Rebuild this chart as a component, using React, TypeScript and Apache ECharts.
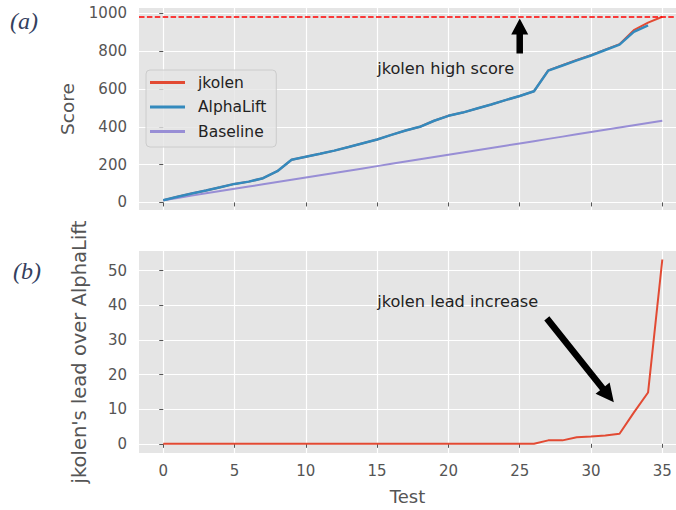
import React, { useEffect, useRef } from "react";
import * as echarts from "echarts";

const tests = [0, 1, 2, 3, 4, 5, 6, 7, 8, 9, 10, 11, 12, 13, 14, 15, 16, 17, 18, 19, 20, 21, 22, 23, 24, 25, 26, 27, 28, 29, 30, 31, 32, 33, 34, 35];
const jkolen = [12, 30, 47, 63, 80, 98, 110, 128, 165, 226, 242, 257, 274, 293, 313, 333, 357, 380, 400, 432, 458, 475, 497, 518, 541, 563, 588, 698, 725, 753, 779, 808, 837, 911, 951, 982];
const alphaLift = [12, 30, 47, 63, 80, 98, 110, 128, 165, 226, 242, 257, 274, 293, 313, 333, 357, 380, 400, 432, 458, 475, 497, 518, 541, 563, 588, 697, 724, 751, 777, 806, 834, 902, 936];
const baseline = [12, 24, 36, 48, 60, 72, 84, 96, 108, 120, 132, 144, 156, 168, 180, 192, 204, 216, 228, 240, 252, 264, 276, 288, 300, 312, 324, 336, 348, 360, 372, 384, 396, 408, 420, 432];
const lead = [0, 0, 0, 0, 0, 0, 0, 0, 0, 0, 0, 0, 0, 0, 0, 0, 0, 0, 0, 0, 0, 0, 0, 0, 0, 0, 0, 1, 1, 1.9, 2.1, 2.4, 2.9, 9, 14.8, 53.2];
const highScore = 982;
const xTicks = [0, 5, 10, 15, 20, 25, 30, 35];
const scoreTicks = [0, 200, 400, 600, 800, 1000];
const leadTicks = [0, 10, 20, 30, 40, 50];

const FONT = '"DejaVu Sans", sans-serif';
const TICK = "#555555";
const RED = "#E24A33";
const BLUE = "#348ABD";
const PURPLE = "#988ED5";

function arrowPts(p1: number[], p2: number[], sw: number, hw: number, hl: number) {
  const dx = p2[0] - p1[0];
  const dy = p2[1] - p1[1];
  const len = Math.hypot(dx, dy);
  const ux = dx / len, uy = dy / len;
  const nx = -uy, ny = ux;
  const bx = p2[0] - ux * hl, by = p2[1] - uy * hl;
  return [
    [p1[0] + nx * sw / 2, p1[1] + ny * sw / 2],
    [bx + nx * sw / 2, by + ny * sw / 2],
    [bx + nx * hw / 2, by + ny * hw / 2],
    [p2[0], p2[1]],
    [bx - nx * hw / 2, by - ny * hw / 2],
    [bx - nx * sw / 2, by - ny * sw / 2],
    [p1[0] - nx * sw / 2, p1[1] - ny * sw / 2],
  ];
}

const plain = (v: number) => String(v);

function xAxisCfg(gridIndex: number, showLabels: boolean) {
  return {
    type: "value",
    gridIndex,
    min: -1.7,
    max: 35.96,
    splitNumber: 8,
    axisLine: { show: false },
    axisTick: { show: true, length: 4, lineStyle: { color: TICK, width: 1 }, customValues: xTicks },
    axisLabel: { show: showLabels, customValues: xTicks, formatter: plain, color: TICK, fontSize: 15, margin: 10, fontFamily: FONT },
    splitLine: { show: true, lineStyle: { color: "#FFFFFF", width: 1.2 } },
  };
}

export default function App() {
  const ref = useRef<HTMLDivElement>(null);
  useEffect(() => {
    const chart = echarts.init(ref.current!, null, { renderer: "svg" });
    const option: any = {
      animation: false,
      backgroundColor: "#FFFFFF",
      textStyle: { fontFamily: FONT },
      grid: [
        { left: 139, top: 8, right: 0, height: 202, show: true, backgroundColor: "#E5E5E5", borderWidth: 0 },
        { left: 139, top: 251, right: 0, height: 202, show: true, backgroundColor: "#E5E5E5", borderWidth: 0 },
      ],
      xAxis: [
        xAxisCfg(0, false),
        {
          ...xAxisCfg(1, true),
          name: "Test",
          nameLocation: "middle",
          nameGap: 34,
          nameTextStyle: { color: TICK, fontSize: 18, fontFamily: FONT },
        },
      ],
      yAxis: [
        {
          type: "value",
          gridIndex: 0,
          min: -40,
          max: 1028,
          splitNumber: 5,
          axisLine: { show: false },
          axisTick: { show: true, length: 4, lineStyle: { color: TICK, width: 1 }, customValues: scoreTicks },
          axisLabel: { customValues: scoreTicks, formatter: plain, color: TICK, fontSize: 15, margin: 12, fontFamily: FONT },
          splitLine: { show: true, lineStyle: { color: "#FFFFFF", width: 1.2 } },
          name: "Score",
          nameLocation: "middle",
          nameGap: 62,
          nameTextStyle: { color: TICK, fontSize: 18.5, fontFamily: FONT },
        },
        {
          type: "value",
          gridIndex: 1,
          min: -2.65,
          max: 55.65,
          splitNumber: 5,
          axisLine: { show: false },
          axisTick: { show: true, length: 4, lineStyle: { color: TICK, width: 1 }, customValues: leadTicks },
          axisLabel: { customValues: leadTicks, formatter: plain, color: TICK, fontSize: 15, margin: 12, fontFamily: FONT },
          splitLine: { show: true, lineStyle: { color: "#FFFFFF", width: 1.2 } },
          name: "jkolen's lead over AlphaLift",
          nameLocation: "middle",
          nameGap: 50,
          nameTextStyle: { color: TICK, fontSize: 19.5, fontFamily: FONT },
        },
      ],
      legend: {
        data: ["jkolen", "AlphaLift", "Baseline"],
        orient: "vertical",
        left: 146,
        top: 70,
        icon: "rect",
        itemWidth: 35,
        itemHeight: 3,
        itemGap: 7.5,
        padding: [4, 10, 7, 4],
        backgroundColor: "rgba(229,229,229,0.8)",
        borderColor: "#CCCCCC",
        borderWidth: 1,
        borderRadius: 4,
        textStyle: { color: "#222222", fontSize: 15.5, fontFamily: FONT, lineHeight: 17, padding: [0, 0, 0, 8] },
      },
      series: [
        {
          name: "jkolen",
          type: "line",
          xAxisIndex: 0,
          yAxisIndex: 0,
          data: tests.map((t, i) => [t, jkolen[i]]),
          symbol: "none",
          color: RED,
          lineStyle: { color: RED, width: 2 },
          z: 2,
          markLine: {
            silent: true,
            symbol: ["none", "none"],
            label: { show: false },
            lineStyle: { color: "#FF0000", type: [5.5, 2.4], width: 1.5 },
            data: [{ yAxis: highScore }],
          },
        },
        {
          name: "AlphaLift",
          type: "line",
          xAxisIndex: 0,
          yAxisIndex: 0,
          data: alphaLift.map((v, i) => [tests[i], v]),
          symbol: "none",
          color: BLUE,
          lineStyle: { color: BLUE, width: 2.5 },
          z: 3,
        },
        {
          name: "Baseline",
          type: "line",
          xAxisIndex: 0,
          yAxisIndex: 0,
          data: tests.map((t, i) => [t, baseline[i]]),
          symbol: "none",
          color: PURPLE,
          lineStyle: { color: PURPLE, width: 2 },
          z: 2,
        },
        {
          name: "lead",
          type: "line",
          xAxisIndex: 1,
          yAxisIndex: 1,
          data: tests.map((t, i) => [t, lead[i]]),
          symbol: "none",
          color: RED,
          lineStyle: { color: RED, width: 2 },
        },
      ],
    };
    chart.setOption(option);

    const px = (g: number, v: number[]) => chart.convertToPixel({ gridIndex: g } as any, v) as unknown as number[];
    const t1 = px(0, [15, 710]);
    const t2 = px(1, [15, 41.2]);
    const a1 = arrowPts(px(0, [25, 788]), px(0, [25, 973]), 6.5, 17, 16);
    const a2 = arrowPts(px(1, [26.9, 36.2]), px(1, [31.6, 12]), 6.5, 18, 18);

    chart.setOption({
      graphic: [
        { type: "text", left: 10, top: 9, style: { text: "(a)", font: 'italic 24px "Liberation Serif", serif', fill: "#34405e" } },
        { type: "text", left: 13, top: 259, style: { text: "(b)", font: 'italic 24px "Liberation Serif", serif', fill: "#34405e" } },
        { type: "text", x: t1[0], y: t1[1], style: { text: "jkolen high score", fontFamily: FONT, fontSize: 16.2, fill: "#222222", verticalAlign: "middle", align: "left" } },
        { type: "text", x: t2[0], y: t2[1], style: { text: "jkolen lead increase", fontFamily: FONT, fontSize: 16.2, fill: "#222222", verticalAlign: "middle", align: "left" } },
        { type: "polygon", shape: { points: a1 }, style: { fill: "#000000" } },
        { type: "polygon", shape: { points: a2 }, style: { fill: "#000000" } },
      ],
    });

    return () => chart.dispose();
  }, []);
  return <div ref={ref} style={{ position: "fixed", left: 0, top: 0, width: 676, height: 510 }} />;
}
